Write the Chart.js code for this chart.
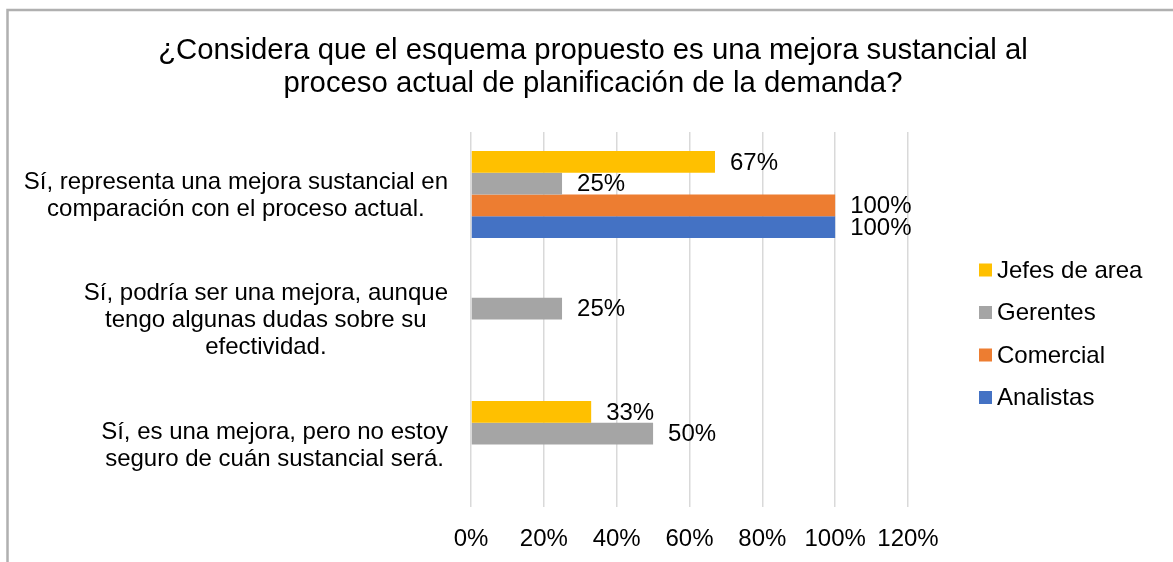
<!DOCTYPE html>
<html>
<head>
<meta charset="utf-8">
<script src="https://cdn.jsdelivr.net/npm/chart.js@4"></script>
<style>
  html, body { margin: 0; padding: 0; background: #ffffff; }
  #wrap { width: 1173px; height: 562px; }
</style>
</head>
<body>
<div id="wrap"><canvas id="chart" width="1173" height="562"></canvas></div>
<script>
const FONT = '"Liberation Sans", Arial, sans-serif';

const titleLines = [
  '¿Considera que el esquema propuesto es una mejora sustancial al',
  'proceso actual de planificación de la demanda?'
];

// categorias (cada una en lineas, como en el original)
const categories = [
  ['Sí, representa una mejora sustancial en', 'comparación con el proceso actual.'],
  ['Sí, podría ser una mejora, aunque', 'tengo algunas dudas sobre su', 'efectividad.'],
  ['Sí, es una mejora, pero no estoy', 'seguro de cuán sustancial será.']
];

const seriesNames = ['Jefes de area', 'Gerentes', 'Comercial', 'Analistas'];
const seriesColors = ['#FFC000', '#A5A5A5', '#ED7D31', '#4472C4'];

const jefesDeArea = [67, null, 33];
const gerentes = [25, 25, 50];
const comercial = [100, null, null];
const analistas = [100, null, null];

const xTicks = [0, 20, 40, 60, 80, 100, 120];

const seriesValues = [jefesDeArea, gerentes, comercial, analistas];

const datasets = seriesNames.map((name, i) => ({
  label: name,
  data: seriesValues[i],
  backgroundColor: seriesColors[i],
  borderWidth: 0,
  categoryPercentage: 0.696,
  barPercentage: 1.0
}));

// dibuja marco, titulo, etiquetas de categoria, leyenda y valores
const decorPlugin = {
  id: 'decor',
  beforeDraw(chart) {
    const ctx = chart.ctx;
    ctx.save();
    ctx.strokeStyle = '#b0b0b0';
    ctx.lineWidth = 2.5;
    ctx.beginPath();
    ctx.moveTo(7.5, chart.height);
    ctx.lineTo(7.5, 10);
    ctx.lineTo(chart.width, 10);
    ctx.stroke();
    ctx.restore();
  },
  afterDraw(chart) {
    const ctx = chart.ctx;
    const area = chart.chartArea;
    const yScale = chart.scales.y;
    ctx.save();
    ctx.fillStyle = '#000000';

    // titulo
    ctx.font = '29.3px ' + FONT;
    ctx.textAlign = 'center';
    ctx.textBaseline = 'middle';
    titleLines.forEach((line, i) => {
      ctx.fillText(line, 593, 51 + i * 33);
    });

    // etiquetas del eje de categorias
    ctx.font = '24px ' + FONT;
    const rightEdge = area.left - 23;
    categories.forEach((lines, idx) => {
      const cy = yScale.getPixelForValue(idx);
      const w = Math.max(...lines.map(l => ctx.measureText(l).width));
      const cx = rightEdge - w / 2;
      const lh = 27;
      const top = cy - (lines.length - 1) * lh / 2;
      lines.forEach((l, j) => ctx.fillText(l, cx, top + j * lh + 1));
    });

    // leyenda
    ctx.textAlign = 'left';
    seriesNames.forEach((name, i) => {
      const y = 270 + i * 42.5;
      ctx.fillStyle = seriesColors[i];
      ctx.fillRect(979, y - 6.5, 13, 13);
      ctx.fillStyle = '#000000';
      ctx.fillText(name, 997, y + 1);
    });

    // valores
    chart.data.datasets.forEach((ds, di) => {
      const meta = chart.getDatasetMeta(di);
      meta.data.forEach((bar, k) => {
        const v = ds.data[k];
        if (v === null || v === undefined) return;
        ctx.fillText(v + '%', bar.x + 15, bar.y + 1);
      });
    });
    ctx.restore();
  }
};

new Chart(document.getElementById('chart'), {
  type: 'bar',
  data: {
    labels: categories.map(c => c.join(' ')),
    datasets: datasets
  },
  options: {
    indexAxis: 'y',
    responsive: false,
    animation: false,
    layout: {
      padding: { left: 471, right: 265, top: 132, bottom: 10 }
    },
    scales: {
      x: {
        min: 0,
        max: 120,
        afterBuildTicks: (scale) => { scale.ticks = xTicks.map(v => ({ value: v })); },
        afterFit: (scale) => { scale.height = 45; },
        grid: { color: '#d9d9d9', lineWidth: 1.5, drawTicks: false },
        border: { display: false },
        ticks: {
          padding: 18,
          color: '#000000',
          font: { family: FONT, size: 24 },
          callback: (v) => v + '%'
        }
      },
      y: {
        display: false
      }
    },
    plugins: {
      legend: { display: false },
      title: { display: false },
      tooltip: { enabled: false }
    }
  },
  plugins: [decorPlugin]
});
</script>
</body>
</html>
